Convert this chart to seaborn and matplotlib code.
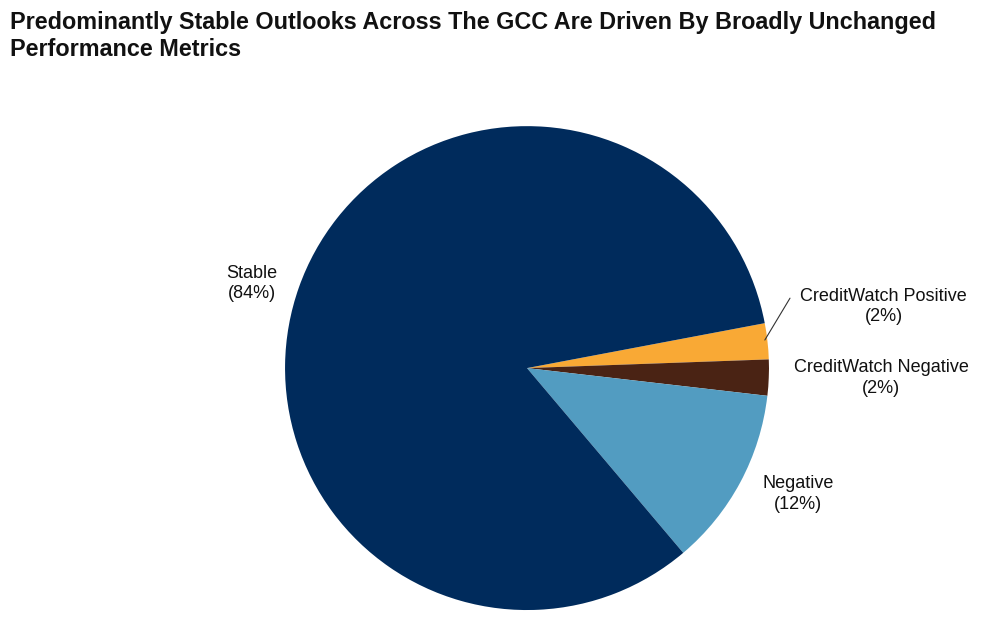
import matplotlib
matplotlib.use("Agg")
import matplotlib.pyplot as plt
import seaborn as sns

categories = ["CreditWatch Positive", "CreditWatch Negative", "Negative", "Stable"]
values = [2.4, 2.4, 12, 83.2]
label_text = ["CreditWatch Positive\n(2%)", "CreditWatch Negative\n(2%)", "Negative\n(12%)", "Stable\n(84%)"]
colors = ["#F9A935", "#4A2314", "#529CC1", "#002B5C"]

sns.set_theme(style="white", rc={"font.family": "Liberation Sans"})
fig = plt.figure(figsize=(10, 6.26), dpi=100)
ax = fig.add_axes([0.285, 0.0255, 0.484, 0.773])
ax.pie(values, colors=colors, startangle=10.7, counterclock=False,
       wedgeprops=dict(linewidth=0))
ax.set_xlim(-1, 1); ax.set_ylim(-1, 1); ax.set_aspect("equal")
ax.axis("off")

pos = [(1.475, 0.256), (1.463, -0.041), (1.12, -0.52), (-1.136, 0.351)]
for t, (x, y) in zip(label_text, pos):
    ax.text(x, y, t, ha="center", va="center", fontsize=13, color="#111111",
            clip_on=False, linespacing=1.25)
ax.plot([0.983, 1.087], [0.116, 0.289], color="#333333", lw=0.8, clip_on=False)

fig.text(0.010, 0.982, "Predominantly Stable Outlooks Across The GCC Are Driven By Broadly Unchanged\nPerformance Metrics",
         ha="left", va="top", fontsize=16.8, fontweight="bold", color="#111111", linespacing=1.2)
fig.savefig("out.png", dpi=100)
